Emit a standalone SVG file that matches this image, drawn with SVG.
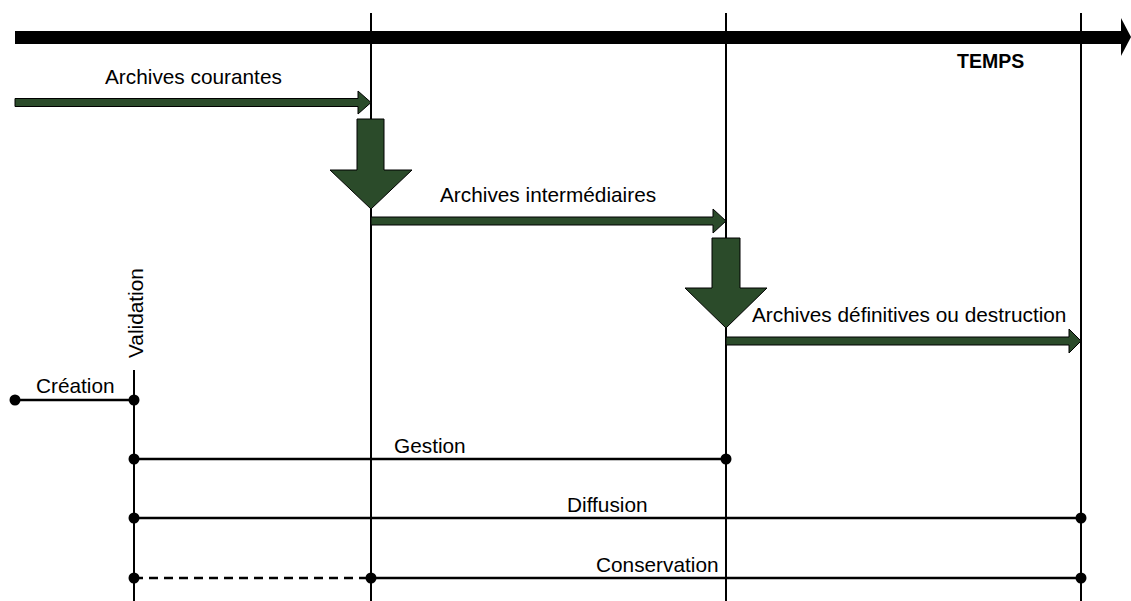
<svg xmlns="http://www.w3.org/2000/svg" width="1131" height="601" viewBox="0 0 1131 601">
<style>
.lbl{font-family:"Liberation Sans",Arial,sans-serif;font-size:20.8px;fill:#000}
.bold{font-family:"Liberation Sans",Arial,sans-serif;font-size:19.5px;font-weight:bold;fill:#000}
.ln{stroke:#000;stroke-width:2.5;fill:none}
.vl{stroke:#000;stroke-width:2;fill:none}
.green{fill:#2b4b2a;stroke:#000;stroke-width:1}
.dot{fill:#000}
</style>
<rect width="1131" height="601" fill="#fff"/>
<g id="time-axis">
<rect x="15" y="31" width="1108" height="13" fill="#000"/>
<polygon points="1121,18 1131,37 1121,56" fill="#000"/>
<text class="bold" x="957" y="68">TEMPS</text>
</g>
<g id="verticals">
<line class="vl" x1="371" y1="13" x2="371" y2="601"/>
<line class="vl" x1="726" y1="13" x2="726" y2="601"/>
<line class="vl" x1="1081" y1="13" x2="1081" y2="601"/>
<line class="vl" x1="134" y1="370" x2="134" y2="601"/>
</g>
<g id="archives-courantes">
<polygon class="green" points="15,98.5 358,98.5 358,91 371,102.5 358,114 358,106.5 15,106.5"/>
<text class="lbl" x="105" y="84">Archives courantes</text>
</g>
<g id="transfer-1">
<polygon class="green" points="357,119 384,119 384,170 412,170 371,209 330,170 357,170"/>
</g>
<g id="archives-intermediaires">
<polygon class="green" points="371,217 713,217 713,209 726,221 713,233 713,225 371,225"/>
<text class="lbl" x="440" y="202">Archives intermédiaires</text>
</g>
<g id="transfer-2">
<polygon class="green" points="712,238 740,238 740,288 767,288 726,328 685,288 712,288"/>
</g>
<g id="archives-definitives">
<polygon class="green" points="726,337 1069,337 1069,329 1081,341 1069,353 1069,345 726,345"/>
<text class="lbl" x="752" y="322">Archives définitives ou destruction</text>
</g>
<g id="creation">
<text class="lbl" x="36" y="393">Création</text>
</g>
<g id="validation">
<text class="lbl" transform="translate(143,358) rotate(-90)">Validation</text>
</g>
<g id="gestion">
<text class="lbl" x="394" y="453">Gestion</text>
</g>
<g id="diffusion">
<text class="lbl" x="567" y="512">Diffusion</text>
</g>
<g id="conservation">
<text class="lbl" x="596" y="572">Conservation</text>
</g>
<g id="connectors">
<line class="ln" x1="15" y1="400" x2="134" y2="400"/>
<line class="ln" x1="134" y1="459" x2="726" y2="459"/>
<line class="ln" x1="134" y1="518" x2="1081" y2="518"/>
<line class="ln" x1="134" y1="578" x2="371" y2="578" stroke-dasharray="9,6"/>
<line class="ln" x1="371" y1="578" x2="1081" y2="578"/>
<circle class="dot" cx="15" cy="400" r="5.5"/>
<circle class="dot" cx="134" cy="400" r="5.5"/>
<circle class="dot" cx="134" cy="459" r="5.5"/>
<circle class="dot" cx="726" cy="459" r="5.5"/>
<circle class="dot" cx="134" cy="518" r="5.5"/>
<circle class="dot" cx="1081" cy="518" r="5.5"/>
<circle class="dot" cx="134" cy="578" r="5.5"/>
<circle class="dot" cx="371" cy="578" r="5.5"/>
<circle class="dot" cx="1081" cy="578" r="5.5"/>
</g>
</svg>
